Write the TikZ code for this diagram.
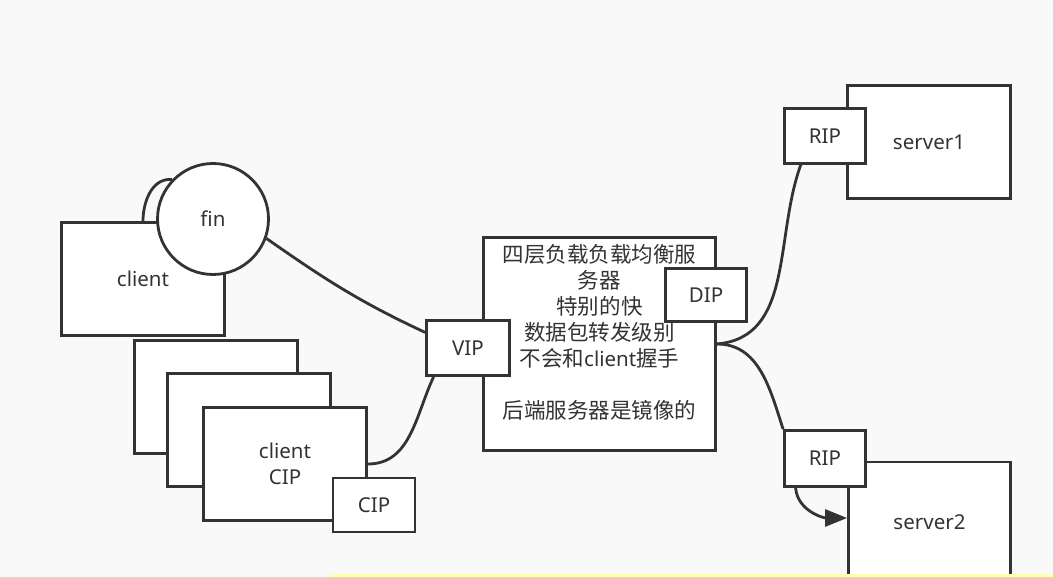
\documentclass[tikz,border=0pt]{standalone}
\usepackage{fontspec}
\setmainfont{Noto Sans}
\newfontfamily\cjk[Scale=1.05]{Noto Sans CJK SC}
\usetikzlibrary{positioning}
\usetikzlibrary{arrows.meta,shapes}
\usetikzlibrary{calc}

\definecolor{edgegray}{RGB}{51,51,51}
\definecolor{paper}{RGB}{249,249,249}
\definecolor{note}{RGB}{255,255,176}

\pgfdeclarelayer{back}
\pgfdeclarelayer{front}
\pgfsetlayers{back,main,front}

\tikzset{
  box/.style={draw=edgegray, line width=2.8pt, fill=white, text=edgegray, inner sep=0pt, align=center},
  link/.style={draw=edgegray, line width=2.8pt},
}

\begin{document}
\begin{tikzpicture}[x=1pt, y=1pt, font=\fontsize{20.5}{26}\selectfont]

	\clip (0,0) rectangle (1053,-577);
	\begin{pgfonlayer}{back}
		\fill[paper] (0,0) rectangle (1053,-577);
	\end{pgfonlayer}

	% clients
	\node[box, minimum width=163, minimum height=113] (client) at (143,-279) {client};
	\foreach \x/\y/\name/\txt in {216/-397/stackA/{}, 249/-430/stackB/{}, 285/-464/clientcip/{client\\CIP}} {
		\node[box, minimum width=163, minimum height=113] (\name) at (\x,\y) {\txt};
	}
	\node[box, minimum width=82, minimum height=54] (cip) at (374,-505) {CIP};
	\node[box, circle, minimum size=111] (fin) at (213,-219) {fin};

	% load balancer
	\node[box, minimum width=232, minimum height=213] (lb) at (599.5,-344) {};
	\node[text=edgegray, align=center] (lbtext) at ($(lb.center)+(0,12)$) {%
		{\cjk 四层负载负载均衡服}\\{\cjk 务器}\\{\cjk 特别的快}\\{\cjk 数据包转发级别}\\%
		{\cjk 不会和}client{\cjk 握手}\\[26pt]{\cjk 后端服务器是镜像的}};
	\node[box, minimum width=81, minimum height=53] (dip) at (706,-295) {DIP};
	\node[box, minimum width=83, minimum height=55] (vip) at (468,-348) {VIP};

	% real servers
	\node[box, minimum width=163, minimum height=113] (server1) at (929,-142) {server1};
	\node[box, minimum width=81, minimum height=55] (rip1) at (825,-136) {RIP};
	\node[box, minimum width=162, minimum height=120] (server2) at (929.5,-522) {server2};
	\node[box, minimum width=81, minimum height=56] (rip2) at (825,-458.5) {RIP};

	\begin{pgfonlayer}{back}
		\draw[link] (client.north) to[out=90, in=175] (fin.136);
		\draw[link] (fin.-20) to[out=-35, in=155] (vip.160);
		\draw[link] (clientcip.east) to[out=0, in=-115] (vip.-140);
		\draw[link] (lb.east) to[out=5, in=-110] (rip1.-130);
		\draw[link] (lb.east) to[out=0, in=108] (rip2.north west);
	\end{pgfonlayer}
	\draw[link, -{Triangle[length=22pt, width=17pt]}] (rip2.-135) to[out=-85, in=180] ($(server2.west)+(0,4)$);

	\begin{pgfonlayer}{front}
		\fill[note] (330,-574) rectangle (1053,-580);
	\end{pgfonlayer}

\end{tikzpicture}
\end{document}
